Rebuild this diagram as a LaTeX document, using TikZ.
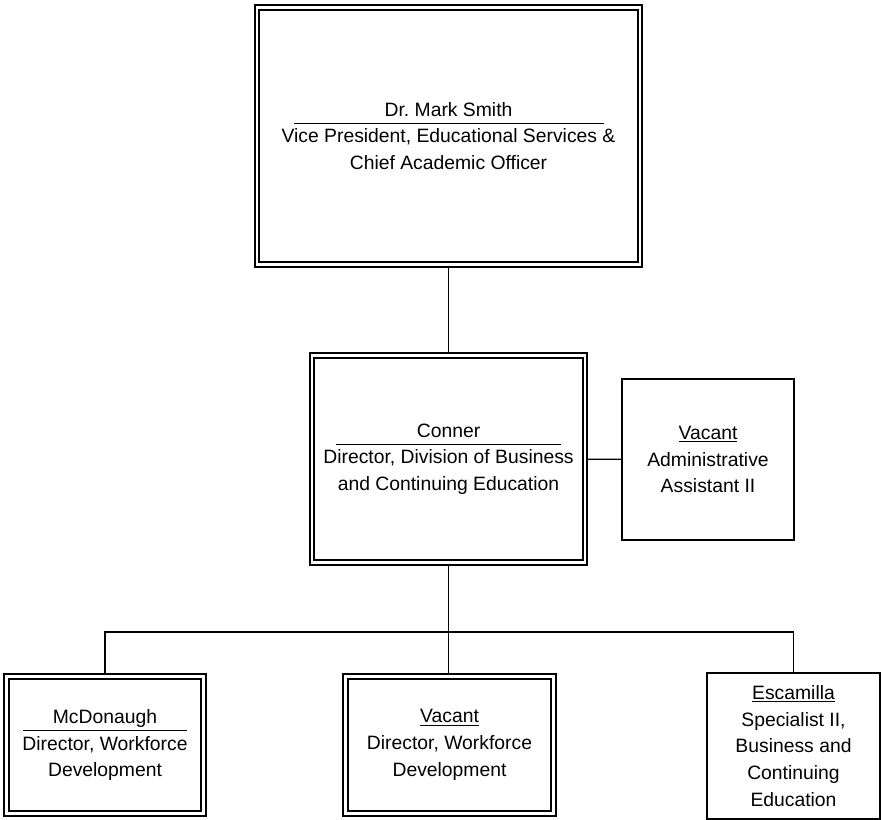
\documentclass[tikz,border=0pt]{standalone}
\usepackage{fontspec}
\setmainfont{Liberation Sans}
\usepackage{tikz}
\usetikzlibrary{positioning}

% name with a wide rule under it
\newcommand{\headname}[2]{\makebox[#1]{#2}\llap{\raisebox{-6pt}{\rule{#1}{1pt}}}}

\begin{document}
\begin{tikzpicture}[
    x=0.75pt, y=-0.75pt,
    every node/.style={font=\fontsize{14.5}{20}\selectfont, align=center, inner sep=0pt},
    chief/.style={rectangle, draw, line width=1.7pt, double, double distance=1.8pt},
    staff/.style={rectangle, draw, line width=1pt},
    link/.style={line width=1pt},
]
\useasboundingbox (0,0) rectangle (882,820);

\node[chief, minimum width=383*0.75pt, minimum height=257*0.75pt] (vp) at (448.5,136)
    {\headname{232.5pt}{Dr.\ Mark Smith}\\Vice President, Educational Services \&\\Chief Academic Officer};
\node[chief, minimum width=273*0.75pt, minimum height=207*0.75pt] (dir) at (448.5,459)
    {\headname{168.75pt}{Conner}\\Director, Division of Business\\and Continuing Education};
\node[staff, minimum width=172*0.75pt, minimum height=161*0.75pt] (asst) at (708,459.5)
    {\underline{Vacant}\\Administrative\\Assistant II};

\node[chief, minimum width=197*0.75pt, minimum height=137*0.75pt] (mcd) at (105,745)
    {\headname{123pt}{McDonaugh}\\Director, Workforce\\Development};
\node[chief, minimum width=208*0.75pt, minimum height=137*0.75pt] (wfd) at (449.5,745)
    {\underline{Vacant}\\Director, Workforce\\Development};
\node[staff, minimum width=173*0.75pt, minimum height=146*0.75pt] (esc) at (793.5,746)
    {\underline{Escamilla}\\Specialist II,\\Business and\\Continuing\\Education};

\coordinate (bus) at (448.5,632);

\draw[link] (vp) -- (dir);
\draw[link] (dir) -- (asst);
\draw[link] (dir) -- (bus);
\draw[link] (bus) -| (mcd.north);
\draw[link] (bus) -| (esc.north);
\draw[link] (bus) -- (wfd.north -| bus);
\end{tikzpicture}
\end{document}
